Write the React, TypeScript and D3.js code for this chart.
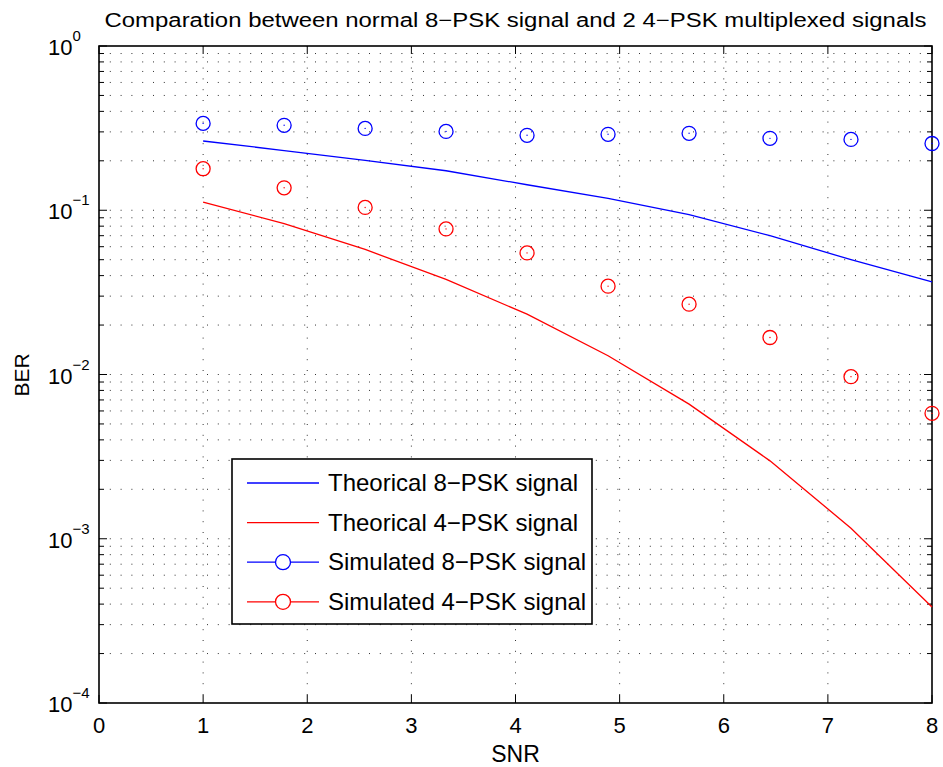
import React from "react";
import * as d3 from "d3";

// SNR points (dB) the curves were sampled at
const snr = [1, 1.778, 2.556, 3.333, 4.111, 4.889, 5.667, 6.444, 7.222, 8];

// theoretical BER curves
const theory8psk = [0.264, 0.231, 0.201, 0.174, 0.143, 0.118, 0.094, 0.07, 0.05, 0.0366];
const theory4psk = [0.112, 0.0829, 0.0577, 0.0379, 0.0233, 0.013, 0.0066, 0.00298, 0.00116, 0.000384];

// simulated BER points
const sim8psk = [0.338, 0.329, 0.315, 0.302, 0.286, 0.29, 0.294, 0.274, 0.27, 0.255];
const sim4psk = [0.179, 0.137, 0.104, 0.077, 0.055, 0.0345, 0.0268, 0.0168, 0.0097, 0.0058];

const xTicks = [0, 1, 2, 3, 4, 5, 6, 7, 8];
const yExponents = [0, -1, -2, -3, -4];

const legendItems = [
    { label: "Theorical 8\u2212PSK signal", color: "#0000ff", marker: false },
    { label: "Theorical 4\u2212PSK signal", color: "#ff0000", marker: false },
    { label: "Simulated 8\u2212PSK signal", color: "#0000ff", marker: true },
    { label: "Simulated 4\u2212PSK signal", color: "#ff0000", marker: true },
];

const FONT = "'Liberation Sans', Arial, Helvetica, sans-serif";

const WIDTH = 943;
const HEIGHT = 767;
const LEFT = 99;
const RIGHT = 932;
const TOP = 46;
const BOTTOM = 703;

/**
 * BER vs SNR plot, matlab style
 */
class Chart extends React.Component {
    x = d3.scaleLinear().domain([0, 8]).range([LEFT, RIGHT]);
    y = d3.scaleLog().domain([1e-4, 1]).range([BOTTOM, TOP]);

    /**
     * all the major + minor values on the log axis
     */
    logTicks() {
        var major: number[] = [];
        var minor: number[] = [];
        for (var k = -4; k <= 0; k++) {
            major.push(Math.pow(10, k));
            if (k < 0) {
                for (var m = 2; m <= 9; m++) {
                    minor.push(m * Math.pow(10, k));
                }
            }
        }
        return { major, minor };
    }

    render() {
        var x = this.x;
        var y = this.y;
        var { major, minor } = this.logTicks();

        var line = d3.line<number>()
            .x((d, i) => x(snr[i]))
            .y((d) => y(d));

        // grid lines (skip the ones sitting on the box)
        var hGrid = major.concat(minor).filter((v) => v > 1e-4 && v < 1);
        var vGrid = xTicks.filter((v) => v > 0 && v < 8);

        return (
            <svg width={WIDTH} height={HEIGHT} style={{ position: "absolute", left: 0, top: 0, background: "#fff" }} fontFamily={FONT}>
                <rect x={0} y={0} width={WIDTH} height={HEIGHT} fill="#fff" />
                <rect x={LEFT} y={TOP} width={RIGHT - LEFT} height={BOTTOM - TOP} fill="#fff" />

                <g stroke="#333" strokeWidth={1} strokeDasharray="1 9.8">
                    {hGrid.map((v, i) => (
                        <line key={"h" + i} x1={LEFT} x2={RIGHT} y1={y(v)} y2={y(v)} />
                    ))}
                    {vGrid.map((v, i) => (
                        <line key={"v" + i} x1={x(v)} x2={x(v)} y1={TOP} y2={BOTTOM} />
                    ))}
                </g>

                {/* tick marks, pointing inward on all four sides */}
                <g stroke="#000" strokeWidth={1}>
                    {xTicks.map((v) => (
                        <g key={"xt" + v}>
                            <line x1={x(v)} x2={x(v)} y1={BOTTOM} y2={BOTTOM - 8} />
                            <line x1={x(v)} x2={x(v)} y1={TOP} y2={TOP + 8} />
                        </g>
                    ))}
                    {major.map((v, i) => (
                        <g key={"ym" + i}>
                            <line x1={LEFT} x2={LEFT + 8} y1={y(v)} y2={y(v)} />
                            <line x1={RIGHT} x2={RIGHT - 8} y1={y(v)} y2={y(v)} />
                        </g>
                    ))}
                    {minor.map((v, i) => (
                        <g key={"yn" + i}>
                            <line x1={LEFT} x2={LEFT + 5} y1={y(v)} y2={y(v)} />
                            <line x1={RIGHT} x2={RIGHT - 5} y1={y(v)} y2={y(v)} />
                        </g>
                    ))}
                </g>

                <rect x={LEFT} y={TOP} width={RIGHT - LEFT} height={BOTTOM - TOP} fill="none" stroke="#000" strokeWidth={1.6} />

                {/* curves */}
                <path d={line(theory8psk) || ""} fill="none" stroke="#0000ff" strokeWidth={1.3} />
                <path d={line(theory4psk) || ""} fill="none" stroke="#ff0000" strokeWidth={1.3} />

                {sim8psk.map((v, i) => (
                    <g key={"b" + i}>
                        <circle cx={x(snr[i])} cy={y(v)} r={7} fill="none" stroke="#0000ff" strokeWidth={1.3} />
                        <circle cx={x(snr[i])} cy={y(v)} r={0.7} fill="#0000ff" />
                    </g>
                ))}
                {sim4psk.map((v, i) => (
                    <g key={"r" + i}>
                        <circle cx={x(snr[i])} cy={y(v)} r={7} fill="none" stroke="#ff0000" strokeWidth={1.3} />
                        <circle cx={x(snr[i])} cy={y(v)} r={0.7} fill="#ff0000" />
                    </g>
                ))}

                {/* x tick labels */}
                <g fontSize={22} textAnchor="middle" fill="#000">
                    {xTicks.map((v) => (
                        <text key={"xl" + v} x={x(v)} y={BOTTOM + 30}>{v}</text>
                    ))}
                </g>

                {/* y tick labels as 10^k */}
                <g fill="#000">
                    {yExponents.map((k) => (
                        <text key={"yl" + k} x={48} y={y(Math.pow(10, k)) + 9} fontSize={22}>
                            10
                            <tspan dy={-14} fontSize={15}>{k < 0 ? "\u2212" + -k : String(k)}</tspan>
                        </text>
                    ))}
                </g>

                <text x={(LEFT + RIGHT) / 2} y={27} textAnchor="middle" fontSize={20} textLength={822} lengthAdjust="spacingAndGlyphs">
                    Comparation between normal 8{"\u2212"}PSK signal and 2 4{"\u2212"}PSK multiplexed signals
                </text>
                <text x={(LEFT + RIGHT) / 2} y={762} textAnchor="middle" fontSize={23}>SNR</text>
                <text transform="translate(29,375) rotate(-90)" textAnchor="middle" fontSize={21}>BER</text>

                {/* legend */}
                <g>
                    <rect x={232} y={459} width={360} height={165} fill="#fff" stroke="#000" strokeWidth={1.6} />
                    {legendItems.map((item, i) => {
                        var cy = 483 + i * 39.6;
                        return (
                            <g key={"lg" + i}>
                                <line x1={247} x2={319} y1={cy} y2={cy} stroke={item.color} strokeWidth={1.3} />
                                {item.marker && <circle cx={283} cy={cy} r={7.5} fill="#fff" stroke={item.color} strokeWidth={1.3} />}
                                <text x={328} y={cy + 8} fontSize={24}>{item.label}</text>
                            </g>
                        );
                    })}
                </g>
            </svg>
        );
    }
}

export default function App() {
    return <Chart />;
}
